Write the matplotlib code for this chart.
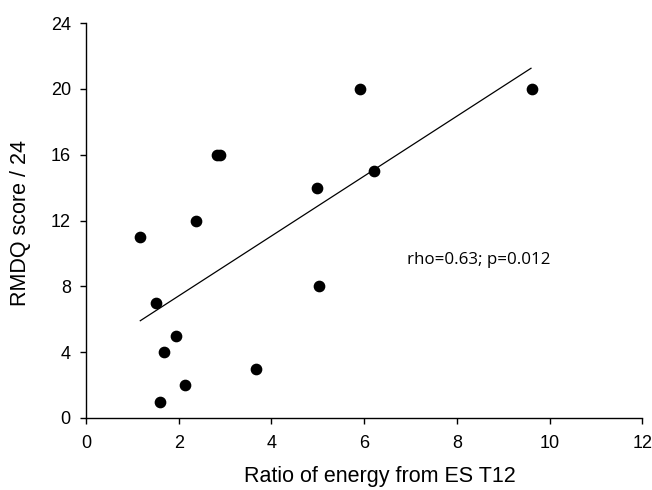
import matplotlib.pyplot as plt

# ratio of energy from ES T12 vs RMDQ score
ratio = [1.17, 1.51, 1.60, 1.68, 1.95, 2.14, 2.38, 2.82, 2.88, 3.66, 4.99, 5.02, 5.90, 6.22, 9.62]
rmdq = [11, 7, 1, 4, 5, 2, 12, 16, 16, 3, 14, 8, 20, 15, 20]

# fitted line end points
fit_x = [1.17, 9.60]
fit_y = [5.91, 21.25]

x_ticks = [0, 2, 4, 6, 8, 10, 12]
y_ticks = [0, 4, 8, 12, 16, 20, 24]

plt.rcParams['font.family'] = ['Liberation Sans', 'DejaVu Sans']

fig = plt.figure(figsize=(6.52, 4.9), dpi=100)
ax = fig.add_axes([0.132, 0.147, 0.853, 0.806])

ax.plot(fit_x, fit_y, color='black', linewidth=0.9)
ax.scatter(ratio, rmdq, s=55, color='black', zorder=3, clip_on=False)

ax.set_xlim(0, 12)
ax.set_ylim(0, 24)
ax.set_xticks(x_ticks)
ax.set_yticks(y_ticks)
ax.tick_params(direction='out', length=4, width=1, labelsize=13)
ax.tick_params(axis='x', pad=8)
ax.tick_params(axis='y', pad=7)

for side in ['top', 'right']:
    ax.spines[side].set_visible(False)
for side in ['left', 'bottom']:
    ax.spines[side].set_linewidth(1)

ax.set_xlabel("Ratio of energy from ES T12", fontsize=15.5)
ax.set_ylabel("RMDQ score / 24", fontsize=15.5)
ax.xaxis.set_label_coords(0.528, -0.1225)
ax.yaxis.set_label_coords(-0.099, 0.494)

ax.text(6.92, 9.57, "rho=0.63; p=0.012", fontsize=12.2, va='center',
        family=['Open Sans', 'DejaVu Sans'])

fig.savefig("out.png", dpi=100)
